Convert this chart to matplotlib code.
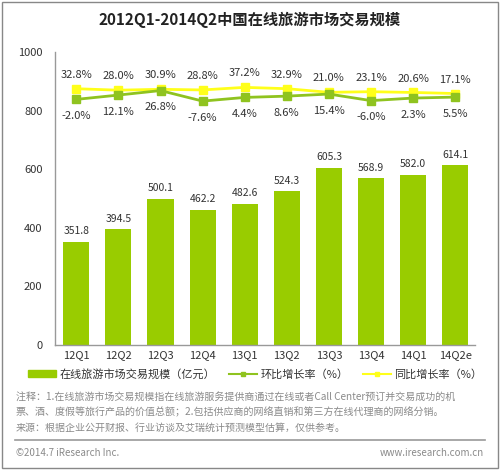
import matplotlib
matplotlib.use('Agg')
import matplotlib.pyplot as plt
from matplotlib.lines import Line2D
from matplotlib.patches import Patch, Rectangle

plt.rcParams['font.family'] = ['Noto Sans CJK SC', 'DejaVu Sans']

quarters = ['12Q1', '12Q2', '12Q3', '12Q4', '13Q1', '13Q2', '13Q3', '13Q4', '14Q1', '14Q2e']
scale = [351.8, 394.5, 500.1, 462.2, 482.6, 524.3, 605.3, 568.9, 582.0, 614.1]
qoq = [-2.0, 12.1, 26.8, -7.6, 4.4, 8.6, 15.4, -6.0, 2.3, 5.5]
yoy = [32.8, 28.0, 30.9, 28.8, 37.2, 32.9, 21.0, 23.1, 20.6, 17.1]

bar_color = '#99cc00'
green_line = '#8fc31f'
yellow_line = '#ffff1a'
text_color = '#333333'
note_color = '#8a8a8a'

fig = plt.figure(figsize=(5, 4.7), dpi=100)
ax = fig.add_axes([0.11, 0.266, 0.84, 0.623])
x = list(range(len(quarters)))

ax.bar(x, scale, width=0.62, color=bar_color, zorder=2)
for xi, v in zip(x, scale):
    ax.annotate('%.1f' % v, (xi, v), xytext=(0, 4), textcoords='offset points',
                ha='center', va='bottom', fontsize=7.5, color=text_color)

ax.set_ylim(0, 1000)
ax.set_xlim(-0.506, 9.47)
ax.set_yticks([0, 200, 400, 600, 800, 1000])
ax.set_xticks(x)
ax.set_xticklabels(quarters)
ax.tick_params(axis='both', length=0, labelsize=8, colors=text_color)
ax.tick_params(axis='y', pad=9)
ax.tick_params(axis='x', pad=4)
for s in ['top', 'right']:
    ax.spines[s].set_visible(False)
for s in ['left', 'bottom']:
    ax.spines[s].set_color('#999999')
    ax.spines[s].set_linewidth(1)

ax2 = ax.twinx()
ax2.set_ylim(-803, 152)
ax2.axis('off')
ax2.plot(x, yoy, color=yellow_line, lw=2, marker='s', ms=6, mfc=yellow_line, mec=yellow_line, zorder=3)
ax2.plot(x, qoq, color=green_line, lw=2, marker='s', ms=6, mfc=green_line, mec=green_line, zorder=4)
for xi, v in zip(x, yoy):
    ax2.annotate('%.1f%%' % v, (xi, v), xytext=(0, 10), textcoords='offset points',
                 ha='center', va='center', fontsize=8, color=text_color)
for xi, v in zip(x, qoq):
    ax2.annotate('%.1f%%' % v, (xi, v), xytext=(0, -12), textcoords='offset points',
                 ha='center', va='center', fontsize=8, color=text_color)

fig.text(0.5, 0.957, '2012Q1-2014Q2中国在线旅游市场交易规模', ha='center', va='center',
         fontsize=11, fontweight='bold', color='#222222')

handles = [Patch(color=bar_color),
           Line2D([], [], color=green_line, lw=1.5, marker='s', ms=3),
           Line2D([], [], color=yellow_line, lw=1.5, marker='s', ms=3)]
labels = ['在线旅游市场交易规模（亿元）', '环比增长率（%）', '同比增长率（%）']
fig.legend(handles, labels, loc='center', bbox_to_anchor=(0.51, 0.204), ncol=3,
           frameon=False, fontsize=8, handlelength=2.5, handleheight=0.5,
           columnspacing=1.3, handletextpad=0.3, labelcolor=text_color)

notes = ['注释：1.在线旅游市场交易规模指在线旅游服务提供商通过在线或者Call Center预订并交易成功的机',
         '票、酒、度假等旅行产品的价值总额；2.包括供应商的网络直销和第三方在线代理商的网络分销。',
         '来源：根据企业公开财报、行业访谈及艾瑞统计预测模型估算，仅供参考。']
for i, line in enumerate(notes):
    fig.text(0.032, 0.155 - i * 0.033, line, ha='left', va='center', fontsize=7.2, color=note_color)

fig.add_artist(Line2D([0.03, 0.97], [0.063, 0.063], color='#999999', lw=1.2))
fig.text(0.032, 0.037, '©2014.7 iResearch Inc.', ha='left', va='center', fontsize=7, color=note_color)
fig.text(0.968, 0.037, 'www.iresearch.com.cn', ha='right', va='center', fontsize=7, color=note_color)

fig.add_artist(Rectangle((0.004, 0.004), 0.992, 0.992, fill=False, ec='#888888', lw=1,
                         transform=fig.transFigure))

fig.savefig('out.png', dpi=100)
